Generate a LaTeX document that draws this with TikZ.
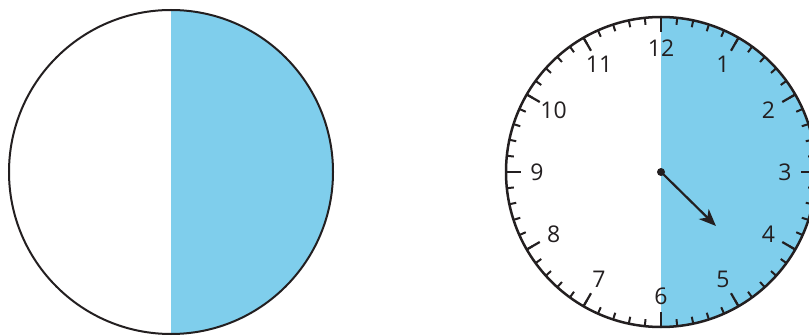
\documentclass[tikz,border=0pt]{standalone}
\usepackage{fontspec}
\setmainfont{Open Sans}
\usetikzlibrary{arrows.meta}
\definecolor{skyblue}{RGB}{127,206,236}
\definecolor{inkblack}{RGB}{35,31,32}

\begin{document}
\begin{tikzpicture}[x=1pt, y=1pt, every node/.style={font=\fontsize{23}{23}\selectfont, text=inkblack}]
  \useasboundingbox (0,0) rectangle (809,335);
  \clip (0,0) rectangle (809,335);

  % Left circle, right half shaded
  \coordinate (lc) at (171,163);
  \fill[skyblue] ([shift={(0,162)}]lc) arc[start angle=90, end angle=-90, radius=162] -- cycle;
  \draw[inkblack, line width=2pt] (lc) circle[radius=162];

  % Clock face
  \coordinate (cc) at (661,163);
  \fill[skyblue] ([shift={(0,155)}]cc) arc[start angle=90, end angle=-90, radius=155] -- cycle;
  \draw[inkblack, line width=2.5pt] (cc) circle[radius=155];

  % Minute and hour ticks
  \foreach \m in {0,...,59}
    \draw[inkblack, line width=2pt] ([shift={(90-6*\m:155)}]cc) -- ([shift={(90-6*\m:148)}]cc);
  \foreach \h in {1,...,12}
    \draw[inkblack, line width=2.2pt] ([shift={(90-30*\h:155)}]cc) -- ([shift={(90-30*\h:140)}]cc);

  % Numbers
  \foreach \h in {1,...,12}
    \node (h\h) at ([shift={(90-30*\h:124)}]cc) {\h};

  % Hand
  \fill[inkblack] (cc) circle[radius=4];
  \coordinate (tip) at ([shift={(-44.5:77)}]cc);
  \draw[inkblack, line width=2.2pt, -{Stealth[length=17pt, width=14pt, inset=5pt]}] (cc) -- (tip);
\end{tikzpicture}
\end{document}
